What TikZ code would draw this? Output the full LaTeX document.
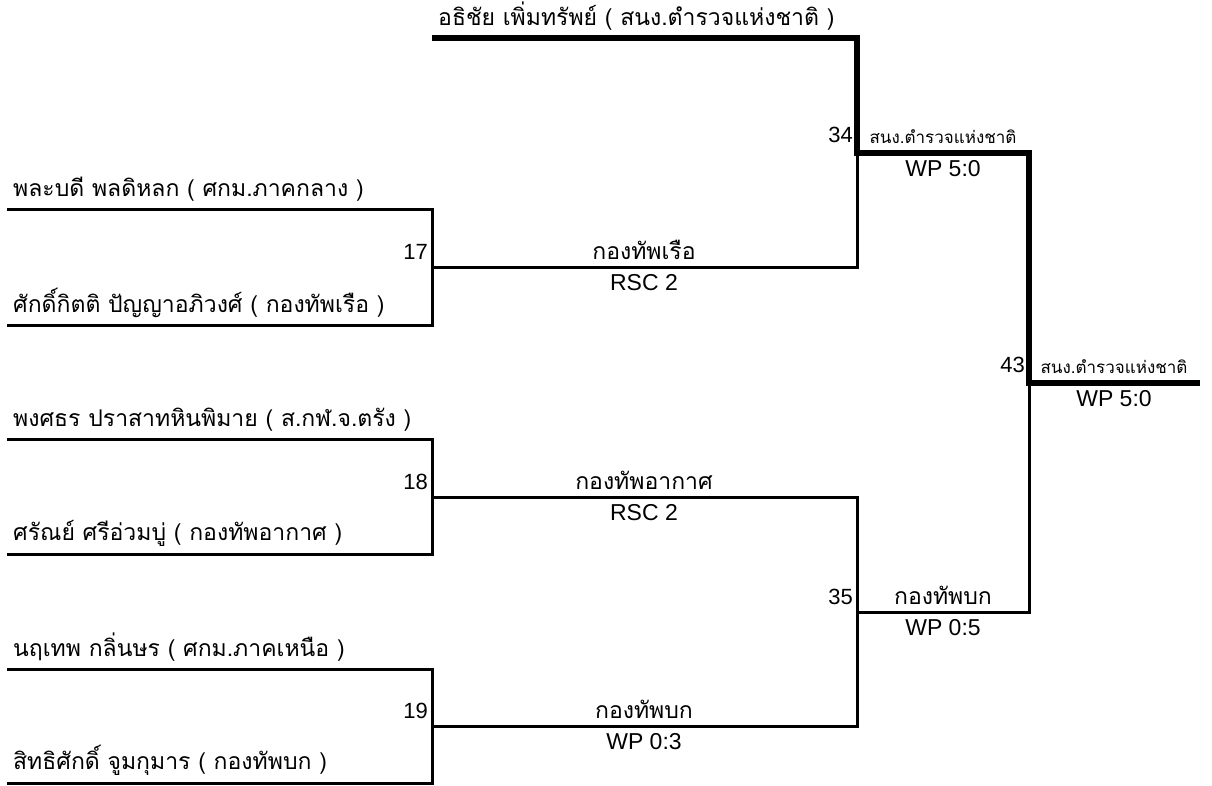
\documentclass[tikz,border=0pt]{standalone}
\usepackage{fontspec}
\setmainfont{Liberation Sans}
\newfontfamily\thaifont[Script=Thai]{Loma}
\usetikzlibrary{positioning}

\tikzset{
  lose/.style={line width=3pt},
  win/.style={line width=5.2pt},
  player/.style={anchor=south west, inner sep=0pt, xshift=6pt, yshift=7pt,
    font=\thaifont\fontsize{23}{23}\selectfont},
  team/.style={anchor=south, inner sep=0pt, yshift=7pt,
    font=\thaifont\fontsize{23}{23}\selectfont},
  smallteam/.style={anchor=south, inner sep=0pt, yshift=9pt,
    font=\thaifont\fontsize{17}{17}\selectfont},
  score/.style={anchor=north, inner sep=0pt, yshift=-7pt,
    font=\fontsize{23}{23}\selectfont},
  bout/.style={anchor=south east, inner sep=0pt, xshift=-4pt, yshift=7pt,
    font=\fontsize{22}{22}\selectfont}
}

\begin{document}
\begin{tikzpicture}[x=1pt, y=-1pt]
\useasboundingbox (0,0) rectangle (1212,785);

% start of the lines
\coordinate (a1) at (432,38);
\coordinate (a2) at (7,209);
\coordinate (a3) at (7,325);
\coordinate (a4) at (7,439);
\coordinate (a5) at (7,554);
\coordinate (a6) at (7,669);
\coordinate (a7) at (7,783);

% bouts
\coordinate (m17) at (432,267);
\coordinate (m18) at (432,497);
\coordinate (m19) at (432,726);
\coordinate (m34) at (857,153);
\coordinate (m35) at (857,612);
\coordinate (m43) at (1029,383);
\coordinate (fin) at (1200,383);

\draw[lose] (a2) -| (m17) |- (a3);
\draw[lose] (a4) -| (m18) |- (a5);
\draw[lose] (a6) -| (m19) |- (a7);
\draw[lose] (m17) -| (m34);
\draw[lose] (m18) -| (m35) |- (m19);
\draw[lose] (m35) -| (m43);
\draw[win] (a1) -| (m34) -| (m43) -- (fin);

\node[player] (n1) at (a1) {อธิชัย เพิ่มทรัพย์ ( สนง.ตำรวจแห่งชาติ )};
\node[player] (n2) at (a2) {พละบดี พลดิหลก ( ศกม.ภาคกลาง )};
\node[player] (n3) at (a3) {ศักดิ์กิตติ ปัญญาอภิวงศ์ ( กองทัพเรือ )};
\node[player] (n4) at (a4) {พงศธร ปราสาทหินพิมาย ( ส.กฬ.จ.ตรัง )};
\node[player] (n5) at (a5) {ศรัณย์ ศรีอ่วมบู่ ( กองทัพอากาศ )};
\node[player] (n6) at (a6) {นฤเทพ กลิ่นษร ( ศกม.ภาคเหนือ )};
\node[player] (n7) at (a7) {สิทธิศักดิ์ จูมกุมาร ( กองทัพบก )};

\node[bout] (b17) at (m17) {17};
\node[bout] (b18) at (m18) {18};
\node[bout] (b19) at (m19) {19};
\node[bout, yshift=3pt] (b34) at (m34) {34};
\node[bout] (b35) at (m35) {35};
\node[bout, yshift=3pt] (b43) at (m43) {43};

\node[team] (t17) at (644,267) {กองทัพเรือ};
\node[score] (s17) at (644,267) {RSC 2};
\node[team] (t18) at (644,497) {กองทัพอากาศ};
\node[score] (s18) at (644,497) {RSC 2};
\node[team] (t19) at (644,726) {กองทัพบก};
\node[score] (s19) at (644,726) {WP 0:3};
\node[smallteam] (t34) at (943,153) {สนง.ตำรวจแห่งชาติ};
\node[score] (s34) at (943,153) {WP 5:0};
\node[team] (t35) at (943,612) {กองทัพบก};
\node[score] (s35) at (943,612) {WP 0:5};
\node[smallteam] (t43) at (1114,383) {สนง.ตำรวจแห่งชาติ};
\node[score] (s43) at (1114,383) {WP 5:0};
\end{tikzpicture}
\end{document}
